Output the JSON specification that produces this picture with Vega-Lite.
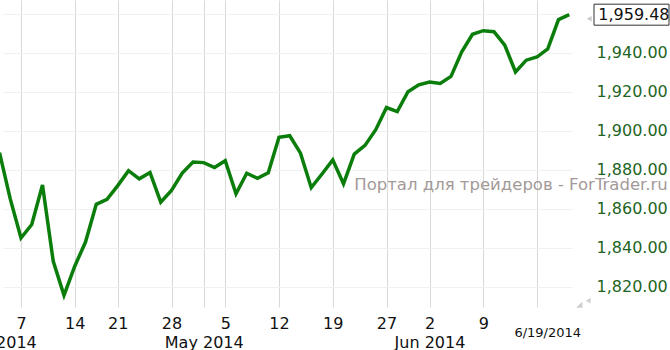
{
  "$schema": "https://vega.github.io/schema/vega-lite/v6.json",
  "width": 572,
  "height": 307,
  "autosize": {"type": "none"},
  "padding": {"left": 0, "top": 0, "right": 98, "bottom": 43},
  "background": "white",
  "config": {"view": {"stroke": null}, "font": "DejaVu Sans"},
  "datasets": {
    "prices": [
      {"date": "2014-04-03", "close": 1888.77},
      {"date": "2014-04-04", "close": 1865.09},
      {"date": "2014-04-07", "close": 1845.04},
      {"date": "2014-04-08", "close": 1851.96},
      {"date": "2014-04-09", "close": 1872.18},
      {"date": "2014-04-10", "close": 1833.08},
      {"date": "2014-04-11", "close": 1815.69},
      {"date": "2014-04-14", "close": 1830.61},
      {"date": "2014-04-15", "close": 1842.98},
      {"date": "2014-04-16", "close": 1862.31},
      {"date": "2014-04-17", "close": 1864.85},
      {"date": "2014-04-21", "close": 1871.89},
      {"date": "2014-04-22", "close": 1879.55},
      {"date": "2014-04-23", "close": 1875.39},
      {"date": "2014-04-24", "close": 1878.61},
      {"date": "2014-04-25", "close": 1863.40},
      {"date": "2014-04-28", "close": 1869.43},
      {"date": "2014-04-29", "close": 1878.33},
      {"date": "2014-04-30", "close": 1883.95},
      {"date": "2014-05-01", "close": 1883.68},
      {"date": "2014-05-02", "close": 1881.14},
      {"date": "2014-05-05", "close": 1884.66},
      {"date": "2014-05-06", "close": 1867.72},
      {"date": "2014-05-07", "close": 1878.21},
      {"date": "2014-05-08", "close": 1875.63},
      {"date": "2014-05-09", "close": 1878.48},
      {"date": "2014-05-12", "close": 1896.65},
      {"date": "2014-05-13", "close": 1897.45},
      {"date": "2014-05-14", "close": 1888.53},
      {"date": "2014-05-15", "close": 1870.85},
      {"date": "2014-05-16", "close": 1877.86},
      {"date": "2014-05-19", "close": 1885.08},
      {"date": "2014-05-20", "close": 1872.83},
      {"date": "2014-05-21", "close": 1888.03},
      {"date": "2014-05-22", "close": 1892.49},
      {"date": "2014-05-23", "close": 1900.53},
      {"date": "2014-05-27", "close": 1911.91},
      {"date": "2014-05-28", "close": 1909.78},
      {"date": "2014-05-29", "close": 1920.03},
      {"date": "2014-05-30", "close": 1923.57},
      {"date": "2014-06-02", "close": 1924.97},
      {"date": "2014-06-03", "close": 1924.24},
      {"date": "2014-06-04", "close": 1927.88},
      {"date": "2014-06-05", "close": 1940.46},
      {"date": "2014-06-06", "close": 1949.44},
      {"date": "2014-06-09", "close": 1951.27},
      {"date": "2014-06-10", "close": 1950.79},
      {"date": "2014-06-11", "close": 1943.89},
      {"date": "2014-06-12", "close": 1930.11},
      {"date": "2014-06-13", "close": 1936.16},
      {"date": "2014-06-16", "close": 1937.78},
      {"date": "2014-06-17", "close": 1941.99},
      {"date": "2014-06-18", "close": 1956.98},
      {"date": "2014-06-19", "close": 1959.48}
    ],
    "last": [
      {"date": "2014-06-19", "close": 1959.48, "label": "1,959.48"}
    ],
    "watermark": [
      {"date": "2014-05-21", "close": 1872.2, "label": "Портал для трейдеров - ForTrader.ru"}
    ],
    "stamp": [
      {"date": "2014-06-17", "close": 1796.3, "label": "6/19/2014"}
    ],
    "corner": [
      {"date": "2014-06-19", "close": 1811.4}
    ]
  },
  "encoding": {
    "x": {
      "field": "date",
      "type": "ordinal",
      "scale": {"type": "point", "padding": 0, "range": [-0.5, 569.25]},
      "axis": null
    },
    "y": {
      "field": "close",
      "type": "quantitative",
      "scale": {"domain": [1809.7, 1967], "nice": false, "zero": false}
    }
  },
  "layer": [
    {
      "data": {"name": "prices"},
      "mark": {"type": "line", "color": "#0b7d0b", "strokeWidth": 3.5, "clip": true},
      "encoding": {
        "x": {
          "field": "date",
          "type": "ordinal",
          "axis": {
            "orient": "bottom",
            "title": null,
            "values": ["2014-04-07", "2014-04-14", "2014-04-21", "2014-04-28", "2014-05-01", "2014-05-05", "2014-05-12", "2014-05-19", "2014-05-27", "2014-06-02", "2014-06-09", "2014-06-16"],
            "labelExpr": "indexof(['2014-05-01','2014-06-16'], datum.value) >= 0 ? '' : '' + toNumber(substring(datum.value, 8, 10))",
            "labelAngle": 0,
            "labelFontSize": 16,
            "labelColor": "#111111",
            "labelPadding": 8,
            "ticks": false,
            "domain": false,
            "grid": true,
            "gridColor": "#d9d9d9",
            "gridWidth": 1
          }
        },
        "y": {
          "field": "close",
          "type": "quantitative",
          "axis": {
            "orient": "right",
            "title": null,
            "values": [1820, 1840, 1860, 1880, 1900, 1920, 1940, 1960],
            "labelExpr": "datum.value == 1960 ? '' : format(datum.value, ',.2f')",
            "labelFontSize": 16,
            "labelColor": "#1f651f",
            "labelPadding": 24,
            "labelAlign": "left",
            "ticks": false,
            "domain": false,
            "grid": true,
            "gridColor": "#f1f1f1",
            "gridWidth": 1
          }
        }
      }
    },
    {
      "data": {"name": "prices"},
      "mark": {"type": "point", "opacity": 0},
      "encoding": {
        "x": {
          "field": "date",
          "type": "ordinal",
          "axis": {
            "orient": "bottom",
            "title": null,
            "values": ["2014-04-03", "2014-05-01", "2014-06-02"],
            "labelExpr": "datum.value == '2014-04-03' ? 'Apr 2014' : datum.value == '2014-05-01' ? 'May 2014' : 'Jun 2014'",
            "labelAngle": 0,
            "labelFontSize": 16,
            "labelColor": "#111111",
            "labelPadding": 8,
            "offset": 19,
            "ticks": false,
            "domain": false,
            "grid": false
          }
        }
      }
    },
    {
      "data": {"name": "watermark"},
      "mark": {"type": "text", "align": "left", "baseline": "middle", "fontSize": 16.5, "color": "#a39999"},
      "encoding": {"text": {"field": "label"}}
    },
    {
      "data": {"name": "stamp"},
      "mark": {"type": "text", "align": "center", "baseline": "middle", "fontSize": 13, "color": "#111111"},
      "encoding": {"text": {"field": "label"}}
    },
    {
      "data": {"name": "last"},
      "mark": {"type": "point", "shape": "M0.66,-0.28L2.66,-0.28L2.66,0.28L0.66,0.28Z", "size": 5625, "filled": false, "color": "#333333", "strokeWidth": 1, "opacity": 1}
    },
    {
      "data": {"name": "last"},
      "mark": {"type": "point", "shape": "triangle-left", "size": 30, "filled": true, "color": "#c8c8c8", "opacity": 1, "xOffset": 20, "yOffset": 4}
    },
    {
      "data": {"name": "last"},
      "mark": {"type": "text", "align": "left", "baseline": "middle", "fontSize": 16, "color": "#111111", "dx": 29},
      "encoding": {"text": {"field": "label"}}
    },
    {
      "data": {"name": "corner"},
      "mark": {"type": "point", "shape": "M1,-1L1,1L-1,1Z", "size": 40, "filled": true, "color": "#cfcfcf", "opacity": 1, "xOffset": 10, "yOffset": 1}
    },
    {
      "data": {"name": "corner"},
      "mark": {"type": "point", "shape": "triangle-left", "size": 30, "filled": true, "color": "#cfcfcf", "opacity": 1, "xOffset": 19, "yOffset": -3}
    }
  ],
  "resolve": {"axis": {"x": "independent"}}
}
